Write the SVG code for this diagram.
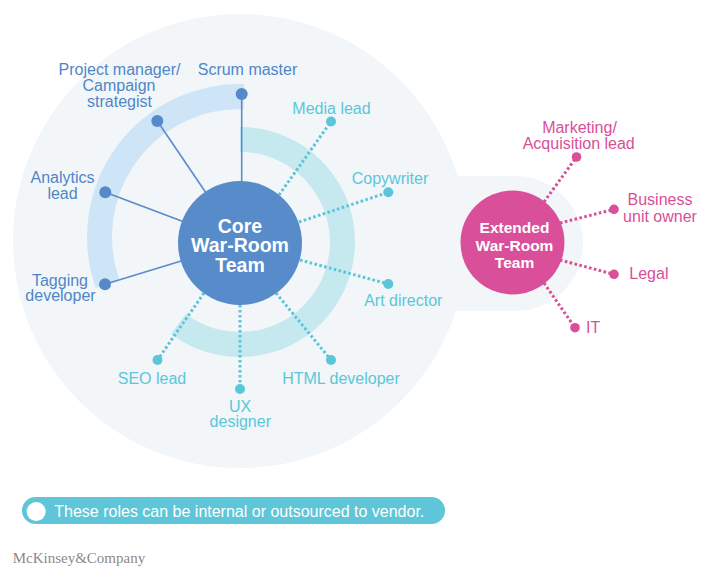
<svg xmlns="http://www.w3.org/2000/svg" width="724" height="577" viewBox="0 0 724 577">
<style>
.t{font-family:"Liberation Sans",Arial,sans-serif;font-size:16px;text-anchor:middle}
.blue{fill:#4f86c7}
.teal{fill:#5bc6d9}
.pink{fill:#d94f98}
.hub{font-family:"Liberation Sans",Arial,sans-serif;font-weight:bold;fill:#fff;text-anchor:middle}
.solid{stroke:#5a8cca;stroke-width:1.6;fill:none}
.dotT{stroke:#5bc6d9;stroke-width:3;stroke-dasharray:2.6 2.4;fill:none}
.dotP{stroke:#d94f98;stroke-width:3;stroke-dasharray:2.6 2.4;fill:none}
</style>
<rect width="724" height="577" fill="#ffffff"/>
<g id="background">
<circle cx="240" cy="241" r="227" fill="#f2f6f9"/>
<rect x="300" y="176" width="283" height="135" rx="67.5" fill="#f2f6f9"/>
<path d="M243.9 96.6 A140.5 140.5 0 0 0 107.6 283.9" stroke="#cde5f7" stroke-width="25" fill="none"/>
<path d="M240 139.5 A102.5 102.5 0 1 1 178.3 323.9" stroke="#c6e8ef" stroke-width="25" fill="none"/>
</g>
<g id="connectors">
<line class="solid" x1="241.7" y1="94" x2="241.7" y2="243"/>
<line class="solid" x1="157.3" y1="121" x2="240" y2="243"/>
<line class="solid" x1="105.3" y1="192.3" x2="240" y2="243"/>
<line class="solid" x1="105" y1="284.3" x2="240" y2="243"/>
<line class="dotT" x1="279" y1="195" x2="331" y2="121.5"/>
<line class="dotT" x1="299" y1="222" x2="388.3" y2="192.3"/>
<line class="dotT" x1="300" y1="260" x2="388.3" y2="284"/>
<line class="dotT" x1="276" y1="293" x2="331" y2="360"/>
<line class="dotT" x1="240" y1="305" x2="240" y2="389"/>
<line class="dotT" x1="204" y1="293" x2="157.5" y2="360"/>
<line class="dotP" x1="544" y1="202" x2="576.5" y2="157"/>
<line class="dotP" x1="560" y1="223" x2="614" y2="209.3"/>
<line class="dotP" x1="560" y1="260" x2="614" y2="274.3"/>
<line class="dotP" x1="544" y1="283" x2="575" y2="327.7"/>
</g>
<g id="core">
<circle cx="240" cy="243" r="62" fill="#578bca"/>
<text class="hub" font-size="19.5" x="240" y="232.5">Core</text>
<text class="hub" font-size="19.5" x="240" y="252">War-Room</text>
<text class="hub" font-size="19.5" x="240" y="271.5">Team</text>
</g>
<g id="extended">
<circle cx="512.5" cy="242.5" r="52" fill="#da4f99"/>
<text class="hub" font-size="15.5" x="514.5" y="233">Extended</text>
<text class="hub" font-size="15.5" x="514.5" y="250.5">War-Room</text>
<text class="hub" font-size="15.5" x="514.5" y="267.5">Team</text>
</g>
<g id="scrum-master">
<circle cx="241.7" cy="94" r="6" fill="#5689ca"/>
<text class="t blue" x="247.5" y="75">Scrum master</text>
</g>
<g id="project-manager">
<circle cx="157.3" cy="121" r="6" fill="#5689ca"/>
<text class="t blue" x="119.5" y="75">Project manager/</text>
<text class="t blue" x="119" y="91">Campaign</text>
<text class="t blue" x="119.5" y="106.5">strategist</text>
</g>
<g id="analytics-lead">
<circle cx="105.3" cy="192.3" r="6" fill="#5689ca"/>
<text class="t blue" x="62.5" y="183">Analytics</text>
<text class="t blue" x="62.5" y="198.5">lead</text>
</g>
<g id="tagging-developer">
<circle cx="105" cy="284.3" r="6" fill="#5689ca"/>
<text class="t blue" x="60" y="286">Tagging</text>
<text class="t blue" x="60.5" y="301">developer</text>
</g>
<g id="media-lead">
<circle cx="331" cy="121.5" r="5" fill="#5bc6d9"/>
<text class="t teal" x="331.5" y="113.5">Media lead</text>
</g>
<g id="copywriter">
<circle cx="388.3" cy="192.3" r="5" fill="#5bc6d9"/>
<text class="t teal" x="390" y="184">Copywriter</text>
</g>
<g id="art-director">
<circle cx="388.3" cy="284" r="5" fill="#5bc6d9"/>
<text class="t teal" x="403.3" y="306">Art director</text>
</g>
<g id="html-developer">
<circle cx="331" cy="360" r="5" fill="#5bc6d9"/>
<text class="t teal" x="341" y="383.5">HTML developer</text>
</g>
<g id="ux-designer">
<circle cx="240" cy="389" r="5" fill="#5bc6d9"/>
<text class="t teal" x="240" y="412">UX</text>
<text class="t teal" x="240.3" y="427">designer</text>
</g>
<g id="seo-lead">
<circle cx="157.5" cy="360" r="5" fill="#5bc6d9"/>
<text class="t teal" x="152" y="384">SEO lead</text>
</g>
<g id="marketing-lead">
<circle cx="576.5" cy="157" r="4.8" fill="#d94f98"/>
<text class="t pink" x="579.5" y="132.5">Marketing/</text>
<text class="t pink" x="578.7" y="148.5">Acquisition lead</text>
</g>
<g id="business-unit-owner">
<circle cx="614" cy="209.3" r="4.8" fill="#d94f98"/>
<text class="t pink" x="660" y="205">Business</text>
<text class="t pink" x="660" y="221.7">unit owner</text>
</g>
<g id="legal">
<circle cx="614" cy="274.3" r="4.8" fill="#d94f98"/>
<text class="t pink" x="629.3" y="279" text-anchor="start" style="text-anchor:start">Legal</text>
</g>
<g id="it">
<circle cx="575" cy="327.7" r="4.8" fill="#d94f98"/>
<text class="t pink" x="586" y="333.3" style="text-anchor:start">IT</text>
</g>
<g id="legend">
<rect x="22" y="497" width="423" height="27" rx="13.5" fill="#5ec6d8"/>
<circle cx="36.2" cy="511.5" r="9.5" fill="#ffffff"/>
<text x="54.3" y="516.7" font-family="Liberation Sans, Arial, sans-serif" font-size="16" fill="#ffffff">These roles can be internal or outsourced to vendor.</text>
</g>
<text x="12.7" y="563.3" font-family="Liberation Serif, Times New Roman, serif" font-size="15" fill="#8a8a8a">McKinsey&amp;Company</text>
</svg>
